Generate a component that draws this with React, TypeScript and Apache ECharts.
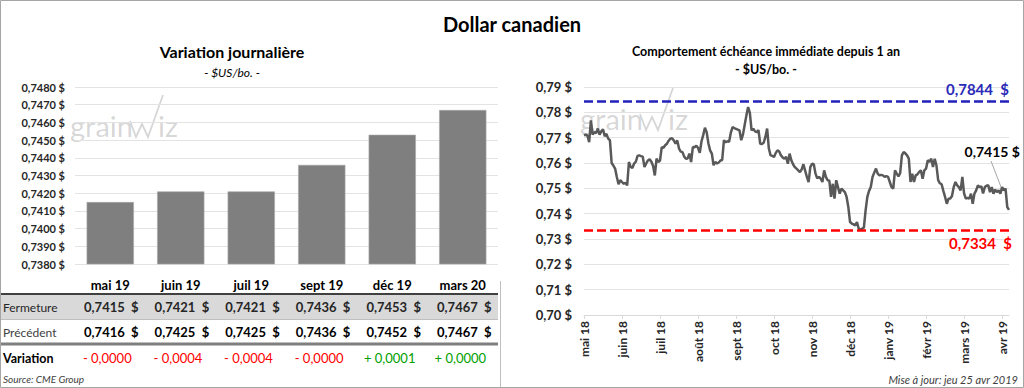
import React, { useEffect, useRef } from "react";
import * as echarts from "echarts";

// ---------- Data ----------
const barCategories = ["mai 19", "juin 19", "juil 19", "sept 19", "déc 19", "mars 20"];
const closeValues = [0.7415, 0.7421, 0.7421, 0.7436, 0.7453, 0.7467];
const previousValues = [0.7416, 0.7425, 0.7425, 0.7436, 0.7452, 0.7467];
const variationValues = [-0.00001, -0.0004, -0.0004, -0.00001, 0.0001, 0.00001];
const rowLabels = ["Fermeture", "Précédent", "Variation"];

const monthLabels = [
  "mai 18", "juin 18", "juil 18", "août 18", "sept 18", "oct 18",
  "nov 18", "déc 18", "janv 19", "févr 19", "mars 19", "avr 19",
];
const daysPerLabel = 22;

const dailyCloses = [
  0.7709, 0.7712, 0.7708, 0.7682, 0.7768, 0.7712, 0.7722, 0.7718, 0.7736, 0.7712,
  0.7725, 0.7733, 0.7706, 0.7715, 0.7696, 0.7690, 0.7600, 0.7590, 0.7578, 0.7545,
  0.7516, 0.7532, 0.7525, 0.7518, 0.7522, 0.7512, 0.7604, 0.7585, 0.7580, 0.7598,
  0.7605, 0.7628, 0.7630, 0.7627, 0.7625, 0.7584, 0.7598, 0.7610, 0.7615, 0.7605,
  0.7588, 0.7551, 0.7617, 0.7604, 0.7610, 0.7663, 0.7660, 0.7670, 0.7676, 0.7688,
  0.7696, 0.7698, 0.7689, 0.7676, 0.7689, 0.7657, 0.7645, 0.7643, 0.7625, 0.7617,
  0.7618, 0.7637, 0.7604, 0.7663, 0.7662, 0.7668, 0.7660, 0.7640, 0.7685, 0.7710,
  0.7739, 0.7722, 0.7678, 0.7650, 0.7637, 0.7591, 0.7604, 0.7598, 0.7602, 0.7610,
  0.7612, 0.7690, 0.7682, 0.7686, 0.7684, 0.7720, 0.7742, 0.7738, 0.7735, 0.7732,
  0.7729, 0.7690, 0.7712, 0.7750, 0.7788, 0.7821, 0.7798, 0.7729, 0.7735, 0.7725,
  0.7722, 0.7730, 0.7676, 0.7675, 0.7680, 0.7703, 0.7736, 0.7657, 0.7630, 0.7628,
  0.7624, 0.7640, 0.7650, 0.7645, 0.7630, 0.7622, 0.7617, 0.7624, 0.7597, 0.7637,
  0.7611, 0.7595, 0.7584, 0.7578, 0.7571, 0.7564, 0.7575, 0.7595, 0.7570, 0.7545,
  0.7525, 0.7584, 0.7597, 0.7595, 0.7558, 0.7540, 0.7545, 0.7538, 0.7525, 0.7571,
  0.7545, 0.7532, 0.7530, 0.7466, 0.7518, 0.7459, 0.7532, 0.7505, 0.7479, 0.7499,
  0.7492, 0.7485, 0.7466, 0.7426, 0.7367, 0.7361, 0.7358, 0.7354, 0.7367, 0.7341,
  0.7338, 0.7341, 0.7345, 0.7413, 0.7466, 0.7490, 0.7505, 0.7545, 0.7562, 0.7578,
  0.7558, 0.7551, 0.7553, 0.7551, 0.7545, 0.7548, 0.7545, 0.7525, 0.7505, 0.7499,
  0.7571, 0.7558, 0.7547, 0.7560, 0.7630, 0.7643, 0.7638, 0.7630, 0.7617, 0.7525,
  0.7558, 0.7525, 0.7551, 0.7555, 0.7565, 0.7571, 0.7538, 0.7571, 0.7578, 0.7611,
  0.7604, 0.7617, 0.7584, 0.7617, 0.7591, 0.7532, 0.7520, 0.7516, 0.7490, 0.7466,
  0.7439, 0.7459, 0.7460, 0.7470, 0.7505, 0.7525, 0.7512, 0.7505, 0.7492, 0.7545,
  0.7480, 0.7459, 0.7462, 0.7459, 0.7479, 0.7439, 0.7479, 0.7492, 0.7512, 0.7505,
  0.7508, 0.7480, 0.7505, 0.7510, 0.7512, 0.7485, 0.7505, 0.7479, 0.7495, 0.7485,
  0.7492, 0.7479, 0.7505, 0.7492, 0.7499, 0.7426, 0.7415,
];
const dayCategories = dailyCloses.map((_, i) => String(i));
const yearHigh = 0.7844;
const yearLow = 0.7334;
const lastClose = 0.7415;

// ---------- Styles ----------
const FONT = "Lato, 'Open Sans', sans-serif";
const fmtDec = (v: number, d: number) => v.toFixed(d).replace(".", ",");

export default function App() {
  const ref = useRef<HTMLDivElement>(null);

  useEffect(() => {
    if (!ref.current) return;
    const chart = echarts.init(ref.current, undefined, { renderer: "svg" });

    const colX = (i: number) => 75 + 70.6 * (i + 0.5) + 1;

    const txt = (
      text: string,
      x: number,
      y: number,
      o: { size?: number; weight?: string; color?: string; align?: string; italic?: boolean } = {}
    ) => ({
      type: "text",
      x,
      y,
      silent: true,
      z: 10,
      style: {
        text,
        fontSize: o.size ?? 12,
        fontWeight: o.weight ?? "normal",
        fontStyle: o.italic ? "italic" : "normal",
        fontFamily: FONT,
        fill: o.color ?? "#000",
        align: o.align ?? "center",
        textAlign: o.align ?? "center",
        verticalAlign: "middle",
        textVerticalAlign: "middle",
      },
    });

    const hline = (x1: number, x2: number, y: number, color: string, w: number) => ({
      type: "line",
      silent: true,
      z: 5,
      shape: { x1, y1: y, x2, y2: y },
      style: { stroke: color, lineWidth: w },
    });

    const wmText = (text: string, x: number) => ({
      type: "text",
      x,
      y: 0,
      style: {
        text,
        fontSize: 29,
        fontFamily: FONT,
        fontWeight: "normal",
        fill: "rgba(0,0,0,0.17)",
        align: "left",
        textAlign: "left",
        verticalAlign: "middle",
        textVerticalAlign: "middle",
      },
    });

    const watermark = (dx: number, dy: number) => ({
      type: "group",
      x: dx,
      y: dy,
      silent: true,
      z: 1,
      children: [
        wmText("grain", 0),
        {
          type: "polyline",
          shape: { points: [[60, -4], [66, 12], [72, -1], [78, 12], [93, -30]] },
          style: { stroke: "rgba(0,0,0,0.16)", lineWidth: 1.8, fill: "none" },
        },
        wmText("iz", 88),
      ],
    });

    const graphic: any[] = [
      {
        type: "rect",
        silent: true,
        z: 0,
        shape: { x: 0.5, y: 0.5, width: 1023, height: 387 },
        style: { fill: "none", stroke: "#a6a6a6", lineWidth: 1 },
      },
      txt("Dollar canadien", 512, 24, { size: 20, weight: "bold" }),
      txt("Variation journalière", 232, 51, { size: 16, weight: "bold" }),
      txt("- $US/bo. -", 232, 72, { size: 12, italic: true }),
      txt("Comportement échéance immédiate depuis 1 an", 766, 51, { size: 12.5, weight: "bold" }),
      txt("- $US/bo. -", 766, 69, { size: 12.5, weight: "bold" }),
      watermark(70, 125),
      watermark(580, 118),
      // table
      {
        type: "rect",
        silent: true,
        z: 2,
        shape: { x: 1, y: 295, width: 497, height: 24 },
        style: { fill: "#d9d9d9" },
      },
      hline(1, 498, 294, "#404040", 2),
      hline(1, 498, 319.5, "#bfbfbf", 1),
      hline(1, 498, 344, "#7f7f7f", 3),
      {
        type: "line",
        silent: true,
        z: 5,
        shape: { x1: 500.5, y1: 281, x2: 500.5, y2: 387 },
        style: { stroke: "#bfbfbf", lineWidth: 1 },
      },
      txt(rowLabels[0], 3, 307, { size: 12, color: "#262626", align: "left" }),
      txt(rowLabels[1], 3, 332, { size: 12, color: "#404040", align: "left" }),
      txt(rowLabels[2], 3, 358, { size: 12.5, weight: "bold", color: "#000", align: "left" }),
      ...closeValues.map((v, i) => txt(fmtDec(v, 4) + "  $", colX(i), 307, { size: 13, weight: "bold", color: "#262626" })),
      ...previousValues.map((v, i) => txt(fmtDec(v, 4) + "  $", colX(i), 332, { size: 13, weight: "bold", color: "#000" })),
      ...variationValues.map((v, i) =>
        txt((v < 0 ? "- " : "+ ") + fmtDec(Math.abs(v), 4), colX(i) - 4, 358, {
          size: 13,
          color: v < 0 ? "#ff0000" : "#00a000",
        })
      ),
      txt("Source: CME Group", 3, 379, { size: 10, italic: true, color: "#404040", align: "left" }),
      txt("Mise à jour: jeu 25 avr 2019", 1018, 379, { size: 11, italic: true, color: "#404040", align: "right" }),
      // last value annotation
      txt(fmtDec(lastClose, 4) + " $", 1020, 151, { size: 14, weight: "bold", color: "#000", align: "right" }),
      {
        type: "line",
        silent: true,
        z: 5,
        shape: { x1: 991, y1: 161, x2: 1001, y2: 187 },
        style: { stroke: "#a6a6a6", lineWidth: 1 },
      },
    ];

    const option: any = {
      animation: false,
      backgroundColor: "#fff",
      textStyle: { fontFamily: FONT },
      grid: [
        { left: 75, right: 526, top: 87, bottom: 124 },
        { left: 584, right: 15, top: 87, bottom: 73 },
      ],
      xAxis: [
        {
          type: "category",
          gridIndex: 0,
          data: barCategories,
          axisLine: { show: false },
          axisTick: { show: false },
          axisLabel: { fontSize: 13, fontWeight: "bold", color: "#000", margin: 14, fontFamily: FONT },
        },
        {
          type: "category",
          gridIndex: 1,
          data: dayCategories,
          boundaryGap: false,
          axisLine: { show: true, lineStyle: { color: "#d9d9d9", width: 1 } },
          axisTick: { show: true, interval: daysPerLabel - 1, length: 4, lineStyle: { color: "#d9d9d9" } },
          axisLabel: {
            interval: daysPerLabel - 1,
            rotate: 90,
            fontSize: 12,
            fontWeight: "bold",
            color: "#262626",
            margin: 6,
            fontFamily: FONT,
            formatter: (_: string, idx: number) =>
              idx % daysPerLabel === 0 ? monthLabels[idx / daysPerLabel] ?? "" : "",
          },
        },
      ],
      yAxis: [
        {
          type: "value",
          gridIndex: 0,
          min: 0.738,
          max: 0.748,
          interval: 0.001,
          axisLine: { show: false },
          axisTick: { show: false },
          splitLine: { lineStyle: { color: "#e3e3e3" } },
          axisLabel: {
            fontSize: 11,
            fontWeight: "bold",
            color: "#262626",
            margin: 10,
            fontFamily: FONT,
            formatter: (v: number) => fmtDec(v, 4) + " $",
          },
        },
        {
          type: "value",
          gridIndex: 1,
          min: 0.7,
          max: 0.79,
          interval: 0.01,
          axisLine: { show: false },
          axisTick: { show: false },
          splitLine: { lineStyle: { color: "#e3e3e3" } },
          axisLabel: {
            fontSize: 13,
            fontWeight: "bold",
            color: "#262626",
            margin: 12,
            fontFamily: FONT,
            formatter: (v: number) => fmtDec(v, 2) + " $",
          },
        },
      ],
      series: [
        {
          type: "bar",
          xAxisIndex: 0,
          yAxisIndex: 0,
          data: closeValues,
          barCategoryGap: "33%",
          itemStyle: { color: "#7f7f7f", borderColor: "#a6a6a6", borderWidth: 0.6 },
        },
        {
          type: "line",
          xAxisIndex: 1,
          yAxisIndex: 1,
          data: dailyCloses,
          showSymbol: false,
          symbol: "none",
          lineStyle: { color: "#595959", width: 2.5 },
          z: 4,
          markLine: {
            silent: true,
            precision: 4,
            symbol: ["none", "none"],
            data: [
              {
                yAxis: yearHigh,
                lineStyle: { color: "#2222bb", type: [9, 4], width: 2.5 },
                label: {
                  position: "insideEndTop",
                  formatter: fmtDec(yearHigh, 4) + "  $",
                  color: "#2a2ab8",
                  fontSize: 15,
                  fontWeight: "bold",
                  fontFamily: FONT,
                  distance: [0, 5],
                },
              },
              {
                yAxis: yearLow,
                lineStyle: { color: "#ff0000", type: [9, 4], width: 2.5 },
                label: {
                  position: "insideEndBottom",
                  formatter: fmtDec(yearLow, 4) + "  $",
                  color: "#ff0000",
                  fontSize: 15,
                  fontWeight: "bold",
                  fontFamily: FONT,
                  distance: [-3, 5],
                },
              },
            ],
          },
        },
      ],
      graphic,
    };

    chart.setOption(option);
    return () => chart.dispose();
  }, []);

  return (
    <div
      ref={ref}
      style={{ position: "fixed", left: 0, top: 0, width: 1024, height: 388, background: "#fff" }}
    />
  );
}
